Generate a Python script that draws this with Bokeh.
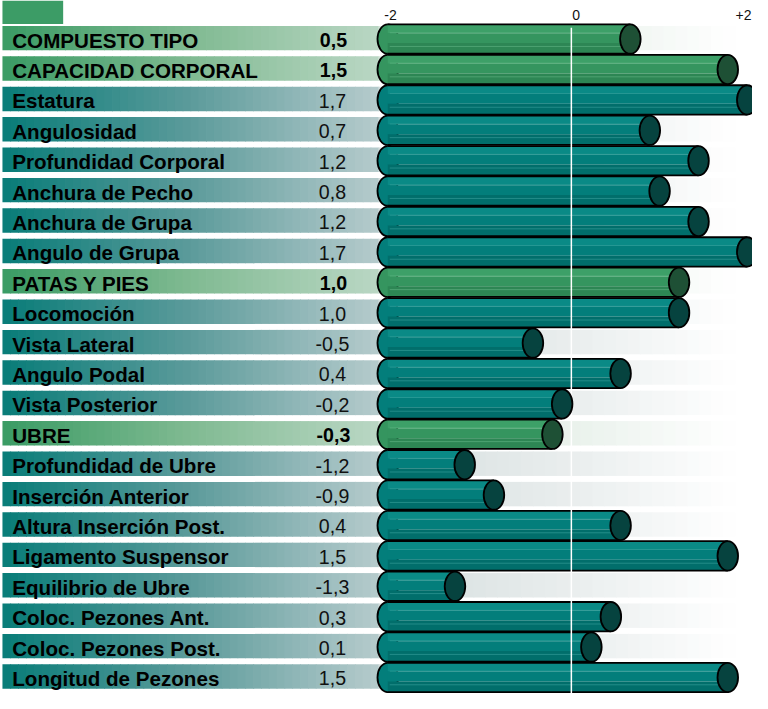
import numpy as np
from bokeh.plotting import figure
from bokeh.models import Range1d, ColumnDataSource
from bokeh.embed import file_html
from bokeh.resources import INLINE
from bokeh.core.properties import value

# ---------------- data ----------------
labels = [
    "COMPUESTO TIPO", "CAPACIDAD CORPORAL", "Estatura", "Angulosidad",
    "Profundidad Corporal", "Anchura de Pecho", "Anchura de Grupa",
    "Angulo de Grupa", "PATAS Y PIES", "Locomoción", "Vista Lateral",
    "Angulo Podal", "Vista Posterior", "UBRE", "Profundidad de Ubre",
    "Inserción Anterior", "Altura Inserción Post.", "Ligamento Suspensor",
    "Equilibrio de Ubre", "Coloc. Pezones Ant.", "Coloc. Pezones Post.",
    "Longitud de Pezones",
]
scores = [0.5, 1.5, 1.7, 0.7, 1.2, 0.8, 1.2, 1.7, 1.0, 1.0, -0.5, 0.4, -0.2,
          -0.3, -1.2, -0.9, 0.4, 1.5, -1.3, 0.3, 0.1, 1.5]
is_group = [True, True, False, False, False, False, False, False, True, False,
            False, False, False, True, False, False, False, False, False,
            False, False, False]
tick_values = [-2, 0, 2]
tick_labels = ["-2", "0", "+2"]

# ---------------- layout helpers (reference pixel space 768x709) ----------------
X0, XS = 583.0, 99.5      # pixel of value 0, pixels per unit
Y0, YS = 38.5, 31.1       # pixel of first row centre, pixels per row
W, H = 752, 693
SX = W / 768.0


def xv(px):
    return (px - X0) / XS


def yv(py):
    return (py - Y0) / YS


def dx(w):
    return w / XS


def dy(h):
    return h / YS


n = len(labels)
rows = np.arange(n)

p = figure(width=W, height=H,
           x_range=Range1d(xv(0), xv(768)), y_range=Range1d(yv(709), yv(0)),
           toolbar_location=None, output_backend="svg",
           x_axis_location=None, y_axis_location=None, min_border=0)
p.xgrid.visible = False
p.ygrid.visible = False
p.outline_line_color = None
p.background_fill_color = "white"
p.border_fill_color = "white"


def lerp_hex(stops, t):
    for (t0, c0), (t1, c1) in zip(stops[:-1], stops[1:]):
        if t <= t1:
            f = 0 if t1 == t0 else (t - t0) / (t1 - t0)
            c = [int(round(a + (b - a) * f)) for a, b in zip(c0, c1)]
            return "#%02x%02x%02x" % tuple(c)
    c = stops[-1][1]
    return "#%02x%02x%02x" % tuple(c)


teal_left = [(0, (8, 124, 120)), (0.5, (92, 155, 155)), (1, (182, 203, 204))]
green_left = [(0, (58, 155, 100)), (0.5, (128, 186, 146)), (1, (186, 215, 196))]
teal_right = [(0, (212, 221, 221)), (0.6, (236, 240, 240)), (1, (255, 255, 255))]
green_right = [(0, (214, 230, 218)), (0.6, (236, 243, 238)), (1, (255, 255, 255))]

# ---------------- background gradient bands ----------------
band = dict(left=[], right=[], top=[], bottom=[], color=[])
NL, NR = 48, 30
lx0, lx1 = 2.0, 386.0
rx0, rx1 = 386.0, 750.0
for i in rows:
    top = i - dy(12.5)
    bot = i + dy(12.5)
    stL = green_left if is_group[i] else teal_left
    stR = green_right if is_group[i] else teal_right
    for k in range(NL):
        a = lx0 + (lx1 - lx0) * k / NL
        b = lx0 + (lx1 - lx0) * (k + 1) / NL
        band["left"].append(xv(a))
        band["right"].append(xv(b + 0.8))
        band["top"].append(top)
        band["bottom"].append(bot)
        band["color"].append(lerp_hex(stL, (k + 0.5) / NL))
    for k in range(NR):
        a = rx0 + (rx1 - rx0) * k / NR
        b = rx0 + (rx1 - rx0) * (k + 1) / NR
        band["left"].append(xv(a))
        band["right"].append(xv(b + 0.8))
        band["top"].append(top)
        band["bottom"].append(bot)
        band["color"].append(lerp_hex(stR, (k + 0.5) / NR))
p.quad(left="left", right="right", top="top", bottom="bottom",
       fill_color="color", line_color=None, source=ColumnDataSource(band))

# top-left small green block
p.quad(left=[xv(2)], right=[xv(64)], top=[yv(0)], bottom=[yv(24)],
       fill_color="#3c9c66", line_color=None)

# ---------------- bars ----------------
BAR_H = 30.0
BAR_OFF = 1.0
CAP_W = 21.0
cols = {
    False: dict(top="#0a8a86", mid="#037e7b", bot="#016e6b", hl="#3aa29d", cap="#06433f"),
    True: dict(top="#3da068", mid="#35955f", bot="#2d8654", hl="#62b585", cap="#1e5035"),
}

left_c = xv(X0 + XS * tick_values[0] + 11.5)   # centre of rounded left end
cap_c = [s + dx(CAP_W / 2) for s in scores]    # centre of end cap
yc = [i + dy(BAR_OFF) for i in rows]

# rounded left ends
p.ellipse(x=[left_c] * n, y=yc, width=dx(CAP_W), height=dy(BAR_H),
          fill_color=[cols[g]["mid"] for g in is_group],
          line_color="black", line_width=1.8)

stripes = dict(left=[], right=[], top=[], bottom=[], color=[])
segs = [(0, 9, "top"), (9, 19, "mid"), (19, 30, "bot")]
for i in rows:
    c = cols[is_group[i]]
    t0 = yc[i] - dy(BAR_H / 2)
    for a, b, key in segs:
        stripes["left"].append(left_c)
        stripes["right"].append(cap_c[i])
        stripes["top"].append(t0 + dy(a))
        stripes["bottom"].append(t0 + dy(b))
        stripes["color"].append(c[key])
p.quad(left="left", right="right", top="top", bottom="bottom",
       fill_color="color", line_color=None, source=ColumnDataSource(stripes))

# thin highlight lines on the cylinders
hl_x0, hl_x1, hl_y, hl_c = [], [], [], []
for i in rows:
    t0 = yc[i] - dy(BAR_H / 2)
    for off in (8.5, 22.5):
        hl_x0.append(left_c + dx(2))
        hl_x1.append(cap_c[i])
        hl_y.append(t0 + dy(off))
        hl_c.append(cols[is_group[i]]["hl"])
p.segment(x0=hl_x0, y0=hl_y, x1=hl_x1, y1=hl_y, line_color=hl_c,
          line_width=1, line_alpha=0.6)

# outlines top and bottom
ox0 = [left_c] * n * 2
ox1 = cap_c + cap_c
oy = [y - dy(BAR_H / 2) for y in yc] + [y + dy(BAR_H / 2) for y in yc]
p.segment(x0=ox0, y0=oy, x1=ox1, y1=oy, line_color="black", line_width=1.8)

# zero line
p.segment(x0=[0], y0=[yv(28)], x1=[0], y1=[yv(712)], line_color="white",
          line_width=1.5)

# end caps
p.ellipse(x=cap_c, y=yc, width=dx(CAP_W), height=dy(BAR_H),
          fill_color=[cols[g]["cap"] for g in is_group],
          line_color="black", line_width=1.8)

# ---------------- texts ----------------
FONT = value("Liberation Sans")
p.text(x=[xv(12)] * n, y=[i + dy(2) for i in rows], text=labels,
       text_font=FONT, text_font_size="%.1fpx" % (21 * SX),
       text_font_style="bold",
       text_color="#000000", text_baseline="middle", text_align="left")

val_txt = [("%.1f" % s).replace(".", ",") for s in scores]
reg = [k for k in rows if not is_group[k]]
grp = [k for k in rows if is_group[k]]
p.text(x=[xv(339)] * len(reg), y=[k + dy(2) for k in reg],
       text=[val_txt[k] for k in reg], text_font=FONT,
       text_font_size="%.1fpx" % (20 * SX),
       text_color="#111111", text_baseline="middle", text_align="center")
p.text(x=[xv(340)] * len(grp), y=[k + dy(2) for k in grp],
       text=[val_txt[k] for k in grp], text_font=FONT,
       text_font_size="%.1fpx" % (20 * SX),
       text_font_style="bold", text_color="#000000",
       text_baseline="middle", text_align="center")

# tick labels above
tick_px_off = [8, 1, 0]
tick_align = ["left", "left", "right"]
for tv, tl, off, al in zip(tick_values, tick_labels, tick_px_off, tick_align):
    xpos = tv + dx(off) if al == "left" else xv(767)
    p.text(x=[xpos], y=[yv(15)], text=[tl], text_font=FONT,
           text_font_size="14px", text_color="#111111",
           text_baseline="middle", text_align=al)

open("out.html", "w").write(file_html(p, INLINE))
